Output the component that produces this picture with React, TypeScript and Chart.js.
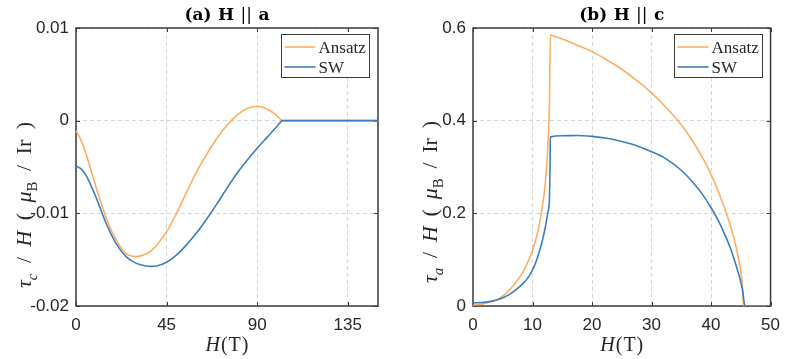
import React, { useEffect, useRef } from "react";
import { Chart, registerables } from "chart.js";

Chart.register(...registerables);

// ---------- Panel (a): H || a ----------
const fieldA = [0, 2.5, 5, 10, 15, 20, 25, 30, 35, 37.5, 40, 45, 50, 55, 60, 65, 70, 75, 80, 85, 90, 95, 100, 102.6, 150];
const ansatzA = [-0.0011, -0.0021, -0.0036, -0.0072, -0.0105, -0.0129, -0.01435, -0.01467, -0.01437, -0.014, -0.01347, -0.01197, -0.00997, -0.00767, -0.00547, -0.0036, -0.0019, -0.0005, 0.0006, 0.00132, 0.00155, 0.00125, 0.0005, 0, 0];
const swA = [-0.0049, -0.0052, -0.0059, -0.0083, -0.0111, -0.0133, -0.0147, -0.0154, -0.01568, -0.01572, -0.01568, -0.01528, -0.01448, -0.01338, -0.01208, -0.01058, -0.00898, -0.00728, -0.00568, -0.00428, -0.00298, -0.00178, -0.00058, 0, 0];
const xTicksA = [0, 45, 90, 135];
const xTickLabelsA = ["0", "45", "90", "135"];
const yTicksA = [-0.02, -0.01, 0, 0.01];
const yTickLabelsA = ["-0.02", "-0.01", "0", "0.01"];

// ---------- Panel (b): H || c ----------
const fieldAnsatzB = [0, 1.5, 3, 4.5, 6, 7.5, 8.5, 9.4, 10.3, 11.06, 11.6, 12.15, 12.6, 12.85, 13.0, 13.05, 15, 17.5, 20, 22.5, 25, 27.5, 30, 32.5, 35, 37, 39, 40.5, 41.5, 42.5, 43.5, 44.2, 44.8, 45.2, 45.5, 50];
const ansatzB = [0.002, 0.004, 0.009, 0.017, 0.033, 0.056, 0.076, 0.1, 0.132, 0.17, 0.21, 0.265, 0.35, 0.44, 0.585, 0.5848, 0.576, 0.563, 0.549, 0.531, 0.511, 0.487, 0.46, 0.428, 0.391, 0.354, 0.31, 0.27, 0.238, 0.203, 0.163, 0.128, 0.09, 0.055, 0, 0];
const fieldSwB = [0, 1.5, 3, 4.5, 6, 7.5, 8.5, 9.4, 10.3, 11.06, 11.6, 12.15, 12.6, 12.85, 12.95, 13.0, 15, 17.5, 20, 22.5, 25, 27.5, 30, 32.5, 35, 37, 38.5, 40, 41.2, 42.4, 43.4, 44.2, 44.8, 45.3, 45.7, 50];
const swB = [0.007, 0.0075, 0.01, 0.015, 0.024, 0.038, 0.05, 0.064, 0.086, 0.114, 0.138, 0.17, 0.203, 0.232, 0.3, 0.365, 0.3675, 0.368, 0.366, 0.362, 0.355, 0.346, 0.333, 0.317, 0.293, 0.266, 0.242, 0.212, 0.185, 0.152, 0.12, 0.088, 0.062, 0.034, 0, 0];
const xTicksB = [0, 10, 20, 30, 40, 50];
const xTickLabelsB = ["0", "10", "20", "30", "40", "50"];
const yTicksB = [0, 0.2, 0.4, 0.6];
const yTickLabelsB = ["0", "0.2", "0.4", "0.6"];

const seriesNames = ["Ansatz", "SW"];

const ORANGE = "#FDAE60";
const BLUE = "#3A7EBF";
const AXIS = "#3b3b3b";
const TEXT = "#262626";
const GRID = "#d6d6d6";
const SERIF = "'Liberation Serif', 'Times New Roman', serif";
const TITLE_SERIF = "'DejaVu Serif', serif";
const SANS = "'Liberation Sans', Arial, sans-serif";

type Seg = { t: string; st?: "i" | "b" | "n"; sub?: boolean };

function drawRich(
  ctx: CanvasRenderingContext2D,
  segs: Seg[],
  family: string,
  size: number,
  cx: number,
  baseY: number,
  target: number
) {
  const fonts = segs.map((s) => {
    const sz = s.sub ? Math.round(size * 0.7) : size;
    const st = s.st === "i" ? "italic " : s.st === "b" ? "bold " : "";
    return `${st}${sz}px ${family}`;
  });
  const widths = segs.map((s, i) => {
    ctx.font = fonts[i];
    return ctx.measureText(s.t).width;
  });
  const natural = widths.reduce((a, b) => a + b, 0);
  const gapCount = segs.filter((s, i) => i > 0 && !s.sub).length;
  const gap = gapCount ? Math.max(0, (target - natural) / gapCount) : 0;
  const total = natural + gap * gapCount;
  let x = cx - total / 2;
  ctx.textAlign = "left";
  ctx.textBaseline = "alphabetic";
  segs.forEach((s, i) => {
    if (i > 0 && !s.sub) x += gap;
    ctx.font = fonts[i];
    ctx.fillText(s.t, x, baseY + (s.sub ? size * 0.25 : 0));
    x += widths[i];
  });
}

type PanelSpec = {
  xMin: number;
  xMax: number;
  yMin: number;
  yMax: number;
  xTicks: number[];
  xTickLabels: string[];
  yTicks: number[];
  yTickLabels: string[];
  ansatzX: number[];
  ansatzY: number[];
  swX: number[];
  swY: number[];
  yAxisWidth: number;
  padRight: number;
  titleSegs: Seg[];
  yTitleSegs: Seg[];
  yTitleX: number;
  yTitleY: number;
  yTitleLen: number;
};

function yTitle(sub: string): Seg[] {
  return [
    { t: "τ", st: "i" },
    { t: sub, st: "i", sub: true },
    { t: "/", st: "n" },
    { t: "H", st: "i" },
    { t: "(", st: "n" },
    { t: "μ", st: "i" },
    { t: "B", st: "n", sub: true },
    { t: "/", st: "n" },
    { t: "Ir", st: "n" },
    { t: ")", st: "n" },
  ];
}

const panelA: PanelSpec = {
  xMin: 0,
  xMax: 150,
  yMin: -0.02,
  yMax: 0.01,
  xTicks: xTicksA,
  xTickLabels: xTickLabelsA,
  yTicks: yTicksA,
  yTickLabels: yTickLabelsA,
  ansatzX: fieldA,
  ansatzY: ansatzA,
  swX: fieldA,
  swY: swA,
  yAxisWidth: 76,
  padRight: 17,
  titleSegs: [
    { t: "(a)", st: "b" },
    { t: "H", st: "b" },
    { t: "||", st: "n" },
    { t: "a", st: "b" },
  ],
  yTitleSegs: yTitle("c"),
  yTitleX: 24,
  yTitleY: 205,
  yTitleLen: 166,
};

const panelB: PanelSpec = {
  xMin: 0,
  xMax: 50,
  yMin: 0,
  yMax: 0.6,
  xTicks: xTicksB,
  xTickLabels: xTickLabelsB,
  yTicks: yTicksB,
  yTickLabels: yTickLabelsB,
  ansatzX: fieldAnsatzB,
  ansatzY: ansatzB,
  swX: fieldSwB,
  swY: swB,
  yAxisWidth: 78,
  padRight: 13,
  titleSegs: [
    { t: "(b)", st: "b" },
    { t: "H", st: "b" },
    { t: "||", st: "n" },
    { t: "c", st: "b" },
  ],
  yTitleSegs: yTitle("a"),
  yTitleX: 35,
  yTitleY: 202,
  yTitleLen: 162,
};

function labelFor(values: number[], labels: string[], v: number) {
  const i = values.findIndex((t) => Math.abs(t - v) < 1e-9);
  return i >= 0 ? labels[i] : "";
}

function makeDecor(spec: PanelSpec) {
  return {
    id: "decor",
    beforeDatasetsDraw(chart: any) {
      const { ctx, chartArea } = chart;
      const { left, right, top, bottom } = chartArea;
      const xs = chart.scales.x;
      const ys = chart.scales.y;
      ctx.save();
      ctx.strokeStyle = AXIS;
      ctx.lineWidth = 1;
      const tl = 4;
      ctx.beginPath();
      for (const v of spec.xTicks) {
        const px = Math.round(xs.getPixelForValue(v)) + 0.5;
        ctx.moveTo(px, bottom);
        ctx.lineTo(px, bottom - tl);
        ctx.moveTo(px, top);
        ctx.lineTo(px, top + tl);
      }
      for (const v of spec.yTicks) {
        const py = Math.round(ys.getPixelForValue(v)) + 0.5;
        ctx.moveTo(left, py);
        ctx.lineTo(left + tl, py);
        ctx.moveTo(right, py);
        ctx.lineTo(right - tl, py);
      }
      ctx.stroke();
      ctx.lineWidth = 1.5;
      ctx.strokeRect(left, top, right - left, bottom - top);
      ctx.restore();
    },
    afterDatasetsDraw(chart: any) {
      const { ctx, chartArea } = chart;
      const { right, top } = chartArea;
      ctx.save();
      const bw = 88;
      const bh = 43;
      const bx = Math.round(right - 9 - bw) + 0.5;
      const by = Math.round(top + 6) + 0.5;
      ctx.fillStyle = "#ffffff";
      ctx.fillRect(bx, by, bw, bh);
      ctx.strokeStyle = AXIS;
      ctx.lineWidth = 1;
      ctx.strokeRect(bx, by, bw, bh);
      const colors = [ORANGE, BLUE];
      seriesNames.forEach((name, i) => {
        const ly = by + 12.5 + i * 20;
        ctx.strokeStyle = colors[i];
        ctx.lineWidth = 1.6;
        ctx.beginPath();
        ctx.moveTo(bx + 3, ly);
        ctx.lineTo(bx + 34, ly);
        ctx.stroke();
        ctx.fillStyle = TEXT;
        ctx.font = `17px ${SERIF}`;
        ctx.textAlign = "left";
        ctx.textBaseline = "alphabetic";
        ctx.fillText(name, bx + 37, ly + 5.5);
      });
      ctx.restore();
    },
    afterDraw(chart: any) {
      const { ctx, chartArea } = chart;
      const cx = (chartArea.left + chartArea.right) / 2;
      ctx.save();
      ctx.fillStyle = "#000";
      drawRich(ctx, spec.titleSegs, TITLE_SERIF, 17, cx, 20, 85);
      ctx.fillStyle = TEXT;
      drawRich(
        ctx,
        [
          { t: "H", st: "i" },
          { t: "(", st: "n" },
          { t: "T", st: "n" },
          { t: ")", st: "n" },
        ],
        SERIF,
        20,
        cx,
        351,
        43
      );
      ctx.translate(spec.yTitleX, spec.yTitleY);
      ctx.rotate(-Math.PI / 2);
      drawRich(ctx, spec.yTitleSegs, SERIF, 22, 0, 7, spec.yTitleLen);
      ctx.restore();
    },
  };
}

function Panel({ spec, left, width }: { spec: PanelSpec; left: number; width: number }) {
  const ref = useRef<HTMLCanvasElement>(null);
  useEffect(() => {
    const canvas = ref.current;
    if (!canvas) return;
    const tickFont = { family: SANS, size: 17 };
    const chart = new Chart(canvas, {
      type: "line",
      data: {
        datasets: [
          {
            label: seriesNames[1],
            data: spec.swX.map((x, i) => ({ x, y: spec.swY[i] })),
            borderColor: BLUE,
            backgroundColor: BLUE,
            borderWidth: 1.6,
            pointRadius: 0,
            cubicInterpolationMode: "monotone",
            fill: false,
          },
          {
            label: seriesNames[0],
            data: spec.ansatzX.map((x, i) => ({ x, y: spec.ansatzY[i] })),
            borderColor: ORANGE,
            backgroundColor: ORANGE,
            borderWidth: 1.6,
            pointRadius: 0,
            cubicInterpolationMode: "monotone",
            fill: false,
          },
        ],
      },
      options: {
        responsive: false,
        animation: false,
        devicePixelRatio: 1,
        events: [],
        layout: { padding: { top: 28, right: spec.padRight, left: 0, bottom: 0 } },
        plugins: {
          legend: { display: false },
          tooltip: { enabled: false },
          title: { display: false },
        },
        scales: {
          x: {
            type: "linear",
            min: spec.xMin,
            max: spec.xMax,
            afterBuildTicks: (s: any) => {
              s.ticks = spec.xTicks.map((v) => ({ value: v }));
            },
            afterFit: (s: any) => {
              s.height = 53;
            },
            grid: { color: GRID, lineWidth: 1, drawTicks: false },
            border: { display: false, dash: [4, 3] },
            ticks: {
              padding: 9,
              font: tickFont,
              color: TEXT,
              maxRotation: 0,
              autoSkip: false,
              callback: (v: any) => labelFor(spec.xTicks, spec.xTickLabels, Number(v)),
            },
          },
          y: {
            type: "linear",
            min: spec.yMin,
            max: spec.yMax,
            afterBuildTicks: (s: any) => {
              s.ticks = spec.yTicks.map((v) => ({ value: v }));
            },
            afterFit: (s: any) => {
              s.width = spec.yAxisWidth;
            },
            grid: { color: GRID, lineWidth: 1, drawTicks: false },
            border: { display: false, dash: [4, 3] },
            ticks: {
              padding: 7,
              font: tickFont,
              color: TEXT,
              autoSkip: false,
              callback: (v: any) => labelFor(spec.yTicks, spec.yTickLabels, Number(v)),
            },
          },
        },
      },
      plugins: [makeDecor(spec) as any],
    } as any);
    return () => chart.destroy();
  }, [spec]);
  return (
    <canvas
      ref={ref}
      width={width}
      height={359}
      style={{ position: "absolute", left, top: 0, width, height: 359, display: "block" }}
    />
  );
}

export default function App() {
  return (
    <div style={{ position: "absolute", left: 0, top: 0, width: 789, height: 359, background: "#ffffff" }}>
      <Panel spec={panelA} left={0} width={395} />
      <Panel spec={panelB} left={395} width={394} />
    </div>
  );
}
